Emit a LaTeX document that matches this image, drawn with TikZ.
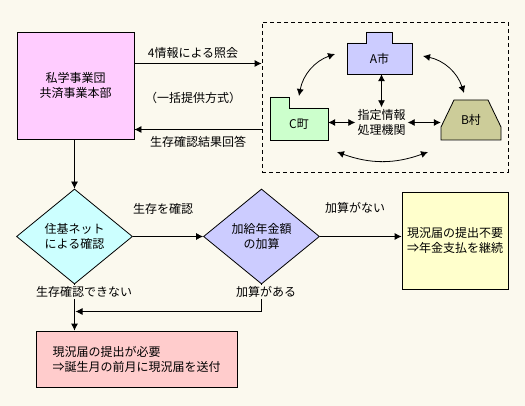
\documentclass[tikz,border=0pt]{standalone}
\usepackage{fontspec}
\setmainfont{Noto Sans CJK JP}
\usetikzlibrary{arrows.meta,shapes.geometric}
\definecolor{bgcol}{RGB}{251,249,238}
\definecolor{honbucol}{RGB}{255,204,255}
\definecolor{acol}{RGB}{204,204,255}
\definecolor{ccol}{RGB}{204,255,204}
\definecolor{bcol}{RGB}{204,204,153}
\definecolor{jukicol}{RGB}{204,255,255}
\definecolor{kasancol}{RGB}{204,204,255}
\definecolor{fuyocol}{RGB}{255,255,204}
\definecolor{hitsuyocol}{RGB}{255,204,204}
\tikzset{
  box/.style={draw=black, line width=0.8pt, inner sep=2pt, align=center},
  dia/.style={diamond, draw=black, line width=0.8pt, inner sep=0pt, align=center},
  lbl/.style={inner sep=1pt, align=center},
  arr/.style={line width=0.8pt, -{Latex[length=7pt,width=7pt]}},
  dbl/.style={line width=0.8pt, {Latex[length=7pt,width=7pt]}-{Latex[length=7pt,width=7pt]}},
}
\begin{document}
\begin{tikzpicture}[x=1pt, y=-1pt, font=\fontsize{12}{15}\selectfont]
    \fill[bgcol] (0,0) rectangle (525,406);
    \useasboundingbox (0,0) rectangle (525,406);

    % Honbu and the query arrows
    \node[box, fill=honbucol, minimum width=117pt, minimum height=107pt] (honbu) at (75.5,85.5) {私学事業団\\共済事業本部};
    \node[draw=black, line width=0.8pt, dash pattern=on 4pt off 3pt, minimum width=246pt, minimum height=150pt] (kikan) at (385,97) {};
    \draw[arr] (honbu.east |- 0,63.5) -- (kikan.west |- 0,63.5);
    \draw[arr] (kikan.west |- 0,129.5) -- (honbu.east |- 0,129.5);
    \node[lbl] (shokai) at (193,53) {4情報による照会};
    \node[lbl] (ikkatsu) at (193,98) {（一括提供方式）};
    \node[lbl] (kaito) at (198,142) {生存確認結果回答};

    % A, B, C and the centre
    \filldraw[fill=acol, line width=0.8pt] (347,74) -- (347,43) -- (366,43) -- (366,32) -- (392,32) -- (392,43) -- (412,43) -- (412,74) -- cycle;
    \node[minimum width=65pt, minimum height=31pt, inner sep=0pt] (acity) at (379.5,58.5) {A市};
    \filldraw[fill=ccol, line width=0.8pt] (270,140) -- (270,97) -- (289,97) -- (289,108) -- (328,108) -- (328,140) -- cycle;
    \node[minimum width=58pt, minimum height=32pt, inner sep=0pt] (ctown) at (299,124) {C町};
    \filldraw[fill=bcol, line width=0.8pt] (441,140) -- (441,127) -- (454,100) -- (488,100) -- (501,127) -- (501,140) -- cycle;
    \node[minimum width=60pt, minimum height=40pt, inner sep=0pt] (bvillage) at (471,120) {B村};
    \node[lbl, inner sep=2pt] (shitei) at (381.5,122.5) {指定情報\\処理機関};
    \draw[dbl] (acity.south -| shitei.north) -- (shitei.north);
    \draw[dbl] (ctown.east |- shitei.west) -- (shitei.west);
    \draw[dbl] (shitei.east) -- (bvillage.west |- shitei.east);
    \coordinate (ac) at (335,54);
    \coordinate (ca) at (299,96);
    \coordinate (ab) at (423,56);
    \coordinate (ba) at (464,93);
    \coordinate (cb) at (337,152);
    \coordinate (bc) at (428,152);
    \draw[dbl] (ac) to[bend right=30] (ca);
    \draw[dbl] (ab) to[bend left=30] (ba);
    \draw[dbl] (cb) to[bend right=20] (bc);

    % Flow
    \node[dia, fill=jukicol, minimum width=116pt, minimum height=95pt] (juki) at (74.5,236.5) {住基ネット\\による確認};
    \node[dia, fill=kasancol, minimum width=116pt, minimum height=95pt] (kasan) at (261.5,236.5) {加給年金額\\の加算};
    \node[box, fill=fuyocol, minimum width=106pt, minimum height=97pt, align=left] (fuyo) at (455,240.5) {現況届の提出不要\\⇒年金支払を継続};
    \node[box, fill=hitsuyocol, minimum width=201pt, minimum height=56pt, align=left] (hitsuyo) at (136.5,359) {現況届の提出が必要\\⇒誕生月の前月に現況届を送付};
    \draw[arr] (honbu.south -| juki.north) -- (juki.north);
    \draw[arr] (juki.east) -- (kasan.west);
    \draw[arr] (kasan.east) -- (fuyo.west |- kasan.east);
    \draw[arr] (juki.south) -- (juki.south |- hitsuyo.north);
    \draw[arr] (kasan.south) |- ([xshift=1pt]juki.south |- 0,311.5);
    \node[lbl] (seizon) at (163,209) {生存を確認};
    \node[lbl] (nai) at (355,208) {加算がない};
    \node[lbl, fill=bgcol] (dekinai) at (84,292) {生存確認できない};
    \node[lbl, fill=bgcol] (aru) at (266,292) {加算がある};
\end{tikzpicture}
\end{document}
